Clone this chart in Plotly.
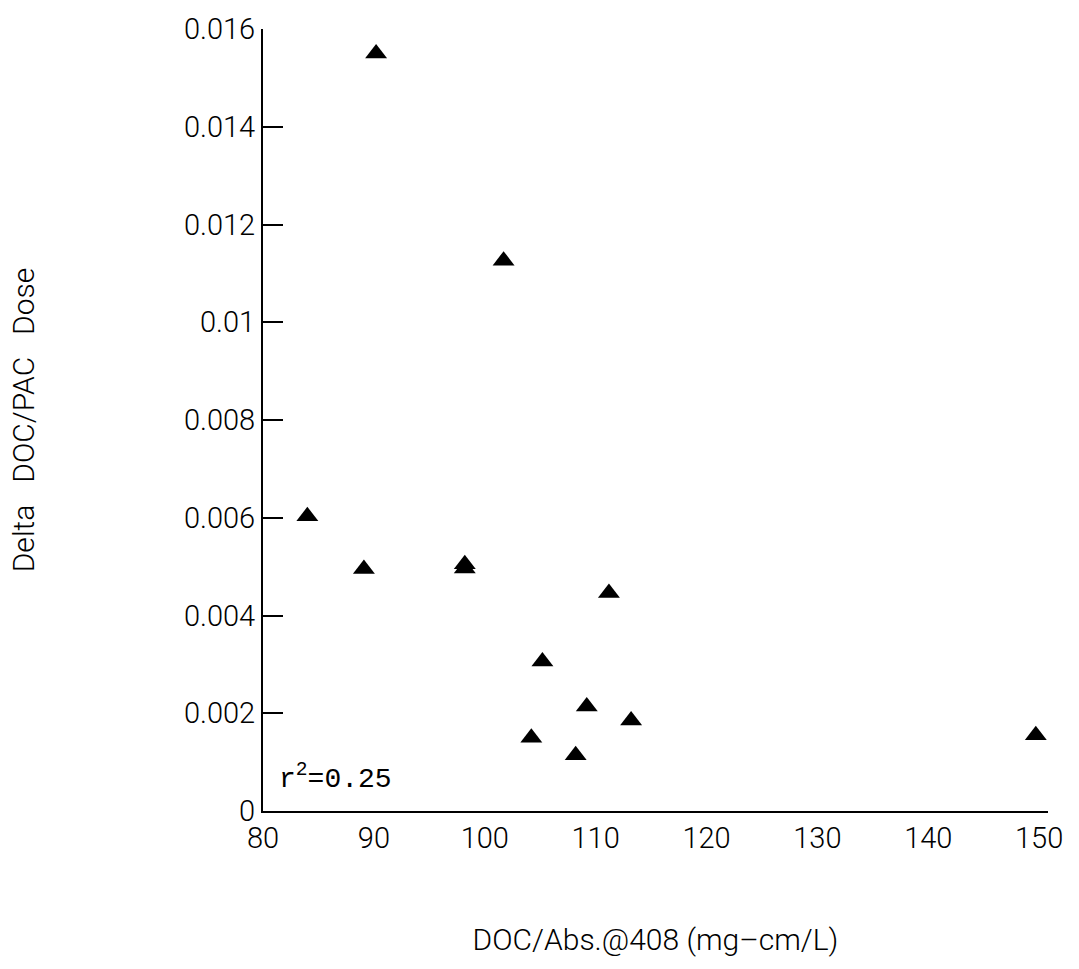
import plotly.graph_objects as go

# DOC/Abs@408 ratio (mg-cm/L) against change in DOC per unit PAC dose
doc_abs_ratio = [90.2, 101.7, 84.0, 89.1, 98.2, 98.2, 111.2, 105.2, 109.2, 113.2, 104.2, 108.2, 149.7]
delta_doc_per_pac = [0.0155, 0.01126, 0.00603, 0.00495, 0.00505, 0.00496, 0.00446,
                     0.00306, 0.00214, 0.00185, 0.00150, 0.00114, 0.00155]

x_ticks = [80, 90, 100, 110, 120, 130, 140, 150]
y_ticks = [0, 0.002, 0.004, 0.006, 0.008, 0.01, 0.012, 0.014, 0.016]
y_tick_text = ["0", "0.002", "0.004", "0.006", "0.008", "0.01", "0.012", "0.014", "0.016"]
r_squared = "0.25"

tick_font = dict(family="Roboto, Liberation Sans, sans-serif", weight=300,
                 size=29, color="black")
title_font = dict(family="Roboto, Liberation Sans, sans-serif", weight=300,
                  size=30, color="black")

fig = go.Figure()
fig.add_trace(go.Scatter(
    x=doc_abs_ratio,
    y=delta_doc_per_pac,
    mode="markers",
    marker=dict(symbol="triangle-up", size=19, color="black", line=dict(width=0)),
    showlegend=False,
))

fig.update_xaxes(
    range=[80, 150.8],
    tickvals=x_ticks,
    ticktext=[str(v) for v in x_ticks],
    ticks="outside", ticklen=0, tickcolor="black",
    showline=True, linecolor="black", linewidth=2,
    showgrid=False, zeroline=False,
    tickfont=tick_font,
    title=dict(text="DOC/Abs.@408 (mg\u2013cm/L)", font=title_font, standoff=75),
)
fig.update_yaxes(
    range=[0, 0.016],
    tickvals=y_ticks,
    ticktext=y_tick_text,
    ticks="inside", ticklen=20, tickwidth=2, tickcolor="black",
    showline=True, linecolor="black", linewidth=2,
    showgrid=False, zeroline=False,
    tickfont=tick_font,
    title=dict(text="Delta\u00a0\u00a0\u00a0DOC/PAC\u00a0\u00a0\u00a0Dose", font=title_font, standoff=140),
)

fig.add_annotation(
    xref="paper", yref="paper", x=0.018, y=0.018,
    xanchor="left", yanchor="bottom",
    text="r<sup>2</sup>=" + r_squared,
    showarrow=False,
    font=dict(family="Liberation Mono, Courier New, monospace", size=28, color="black"),
)

fig.update_layout(
    width=1079, height=969,
    margin=dict(l=263, r=31, t=21, b=158),
    paper_bgcolor="white", plot_bgcolor="white",
)

fig.write_html("out.html")
